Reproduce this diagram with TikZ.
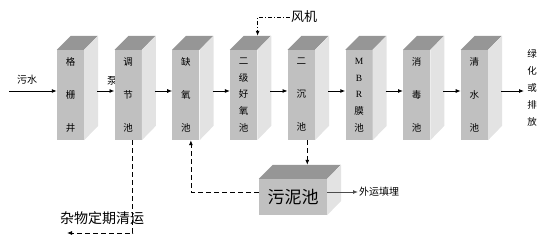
\documentclass[tikz,border=0pt]{standalone}
\usepackage{fontspec}
\setmainfont{Noto Sans CJK SC}
\newfontfamily\latserif{Liberation Serif}
\usetikzlibrary{arrows.meta}

\definecolor{tankfront}{HTML}{C0C0C0}
\definecolor{tanktop}{HTML}{969696}
\definecolor{tankside}{HTML}{E3E3E3}

\tikzset{
  tank/.style={fill=tankfront, minimum width=27pt, minimum height=90pt,
    inner sep=0pt, align=center},
  flow/.style={-{Latex[length=5pt,width=4pt]}, line width=0.9pt},
  back/.style={-{Latex[length=5pt,width=4pt]}, line width=0.8pt,
    dash pattern=on 5pt off 3pt},
  air/.style={-{Latex[length=5pt,width=4pt]}, line width=0.8pt,
    dash pattern=on 4pt off 2pt on 1pt off 2pt},
  lbl/.style={inner sep=1pt, font=\fontsize{10}{12}\selectfont},
}
\newcommand\lat[1]{{\latserif #1}}

\begin{document}
\begin{tikzpicture}[x=1pt, y=-1pt]
  \useasboundingbox (0,0) rectangle (547,248);
  % pump label sits behind the second tank
  \node[lbl] (pump) at (112,81) {泵};
  % process tanks, left to right
  \foreach \txt/\sp [count=\i from 0] in {{格\\栅\\井}/33, {调\\节\\池}/33,
      {缺\\氧\\池}/33, {二\\级\\好\\氧\\池}/16.7, {二\\沉\\池}/33,
      {\lat{M}\\\lat{B}\\\lat{R}\\{膜}\\{池}}/16.7,
      {消\\毒\\池}/33, {清\\水\\池}/33} {
    \node[tank, font=\fontsize{9.5}{\sp}\selectfont] (t\i) at ({70.5+57.7*\i},95) {\txt};
    \fill[tanktop] (t\i.north west) -- ++(14,-14) -- ++(27,0) -- (t\i.north east) -- cycle;
    \fill[tankside] (t\i.north east) -- ++(14,-14) -- ++(0,90) -- (t\i.south east) -- cycle;
  }
  % sludge tank
  \node[tank, minimum width=68pt, minimum height=36pt,
    font=\fontsize{17}{20}\selectfont] (sludge) at (293,197) {污泥池};
  \fill[tanktop] (sludge.north west) -- ++(14,-14) -- ++(68,0) -- (sludge.north east) -- cycle;
  \fill[tankside] (sludge.north east) -- ++(14,-14) -- ++(0,36) -- (sludge.south east) -- cycle;

  % labels
  \coordinate (in) at (9,91);
  \node[lbl] (sewage) at (27,80) {污水};
  \node[lbl, align=center, font=\fontsize{9.5}{17.2}\selectfont] (out) at (532,88)
    {绿\\化\\或\\排\\放};
  \node[inner sep=1pt, font=\fontsize{13}{15}\selectfont] (fan) at (304,17) {风机};
  \node[inner sep=1pt, font=\fontsize{14}{16}\selectfont] (junk) at (102,218) {杂物定期清运};
  \node[lbl, anchor=west] (haul) at (358,192) {外运填埋};
  \coordinate (junkend) at (67,233);

  % main flow
  \draw[flow] (in) -- (in -| t0.west);
  \foreach \i [evaluate=\i as \j using int(\i+1)] in {0,...,6}
    \draw[flow] ([xshift=13pt]t\i.east |- in) -- (t\j.west |- in);
  \draw[flow] ([xshift=13pt]t7.east |- in) -- ([xshift=-2pt]out.west |- in);

  % air, debris, sludge
  \draw[air] (fan.west) -| ([xshift=14pt,yshift=14pt]t3.north);
  \draw[back] ([xshift=4.5pt]t1.south) |- (junkend);
  \draw[back] ([xshift=6pt]t4.south) -- ([xshift=6pt,yshift=14pt]t4.south |- sludge.north);
  \draw[back] ([yshift=5pt]sludge.west) -| ([xshift=5pt]t2.south);
  \draw[flow, draw=black!70] ([yshift=5pt]sludge.east) -- (haul.west);
\end{tikzpicture}
\end{document}
